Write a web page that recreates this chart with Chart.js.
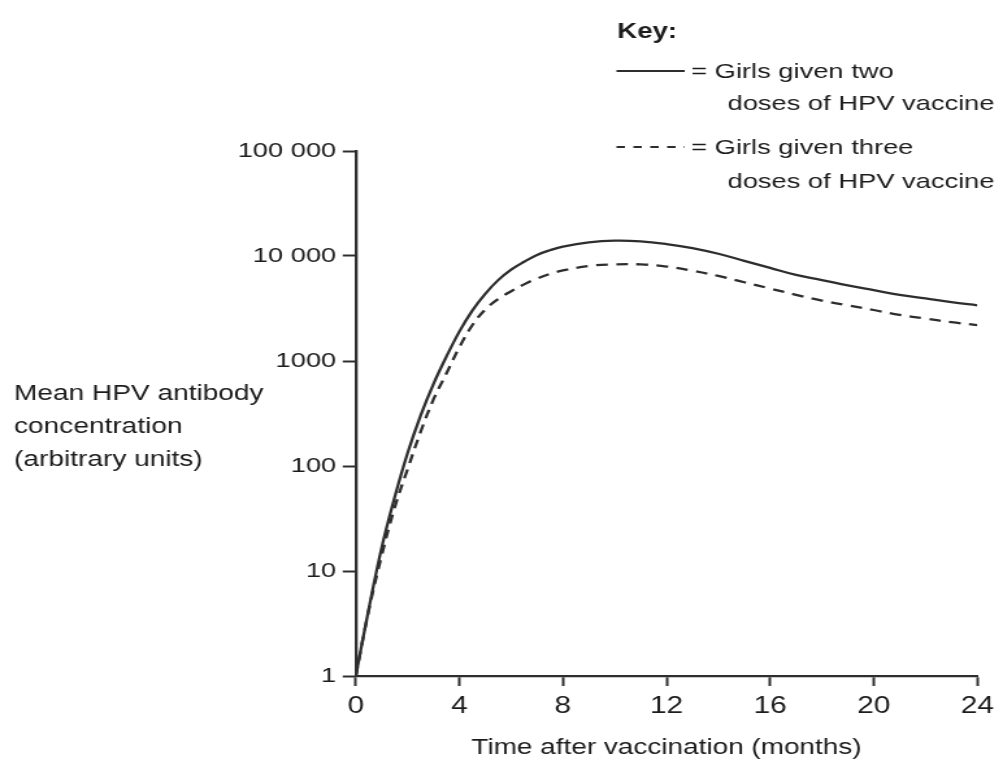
<!DOCTYPE html>
<html>
<head>
<meta charset="utf-8">
<script src="https://cdn.jsdelivr.net/npm/chart.js@4/dist/chart.umd.min.js"></script>
<style>
  html, body { margin: 0; padding: 0; background: #ffffff; }
  #c { display: block; width: 1003px; height: 761px; }
</style>
</head>
<body>
<canvas id="c" width="772" height="761" style="width:1003px;height:761px;"></canvas>
<script>
// ---- data ----
const months = [0, 0.5, 1, 1.5, 2, 2.5, 3, 3.5, 4, 4.5, 5, 5.5, 6, 6.5, 7, 7.5, 8, 9, 10, 11, 12, 13, 14, 15, 16, 17, 18, 19, 20, 21, 22, 23, 24];
const twoDoses = [1, 4.3, 16.6, 50, 132, 300, 603, 1100, 1905, 3020, 4365, 5890, 7410, 8810, 10230, 11350, 12300, 13490, 14000, 13800, 13000, 11900, 10500, 9000, 7700, 6600, 5900, 5250, 4730, 4270, 3940, 3630, 3390];
const threeDoses = [1, 4.2, 14, 40, 93, 210, 430, 760, 1350, 2190, 3090, 3890, 4620, 5370, 6100, 6760, 7280, 8040, 8320, 8320, 7940, 7240, 6460, 5620, 4900, 4270, 3760, 3390, 3060, 2750, 2540, 2340, 2200];
const yTickValues = [1, 10, 100, 1000, 10000, 100000];
const yTickLabels = ['1', '10', '100', '1000', '10 000', '100 000'];
const xTickStep = 4;
const seriesNames = ['Girls given two doses of HPV vaccine', 'Girls given three doses of HPV vaccine'];
const xTitle = 'Time after vaccination (months)';
const yTitleLines = ['Mean HPV antibody', 'concentration', '(arbitrary units)'];
const keyTitle = 'Key:';
const keyLines = [['= Girls given two', 'doses of HPV vaccine'], ['= Girls given three', 'doses of HPV vaccine']];

const INK = '#1c1c1c';
const AXIS = '#2e2e2e';
const FONT = '"Liberation Sans", Arial, sans-serif';

const toPoints = (vals) => months.map((m, i) => ({ x: m, y: vals[i] }));

const annotations = {
  id: 'annotations',
  afterDraw(chart) {
    const ctx = chart.ctx;
    ctx.save();
    ctx.fillStyle = INK;
    ctx.textAlign = 'left';
    ctx.textBaseline = 'alphabetic';
    // y-axis title (horizontal, three lines)
    ctx.font = '21.6px ' + FONT;
    const yb = [400, 433, 466];
    yTitleLines.forEach((t, i) => ctx.fillText(t, 10.8, yb[i]));
    // key
    ctx.font = 'bold 21.3px ' + FONT;
    ctx.fillText(keyTitle, 475, 38);
    ctx.font = '21px ' + FONT;
    ctx.fillText(keyLines[0][0], 532, 78);
    ctx.fillText(keyLines[0][1], 560, 110);
    ctx.fillText(keyLines[1][0], 532, 154);
    ctx.fillText(keyLines[1][1], 560, 188);
    ctx.strokeStyle = AXIS;
    ctx.lineWidth = 2;
    ctx.beginPath();
    ctx.moveTo(474.5, 71); ctx.lineTo(527, 71);
    ctx.stroke();
    ctx.setLineDash([6.5, 6.5]);
    ctx.beginPath();
    ctx.moveTo(474.5, 147); ctx.lineTo(527, 147);
    ctx.stroke();
    ctx.restore();
  }
};

new Chart(document.getElementById('c'), {
  type: 'line',
  data: {
    datasets: [
      {
        label: seriesNames[0],
        data: toPoints(twoDoses),
        borderColor: AXIS,
        borderWidth: 2.3,
        pointRadius: 0,
        fill: false,
        tension: 0.4
      },
      {
        label: seriesNames[1],
        data: toPoints(threeDoses),
        borderColor: AXIS,
        borderWidth: 2.3,
        borderDash: [9, 6.5],
        pointRadius: 0,
        fill: false,
        tension: 0.4
      }
    ]
  },
  options: {
    responsive: false,
    devicePixelRatio: 1,
    animation: false,
    layout: { padding: { left: 0, right: 13.5, top: 151, bottom: 0 } },
    plugins: { legend: { display: false }, tooltip: { enabled: false } },
    scales: {
      x: {
        type: 'linear',
        min: 0,
        max: 24,
        afterFit(scale) { scale.height = 85; },
        ticks: {
          stepSize: xTickStep,
          color: INK,
          padding: 7,
          maxRotation: 0,
          font: { family: FONT, size: 23 }
        },
        grid: { drawOnChartArea: false, drawTicks: true, tickLength: 10, tickWidth: 2, tickColor: AXIS },
        border: { display: true, color: AXIS, width: 2.3 },
        title: { display: true, text: xTitle, color: INK, font: { family: FONT, size: 21.5 }, padding: { top: 0, bottom: 0 } }
      },
      y: {
        type: 'logarithmic',
        min: 1,
        max: 100000,
        afterFit(scale) { scale.width = 273.8; },
        afterBuildTicks(scale) { scale.ticks = yTickValues.map(v => ({ value: v })); },
        ticks: {
          color: INK,
          padding: 5,
          font: { family: FONT, size: 21 },
          callback(value) {
            const i = yTickValues.indexOf(value);
            return i >= 0 ? yTickLabels[i] : '';
          }
        },
        grid: { drawOnChartArea: false, drawTicks: true, tickLength: 10, tickWidth: 2, tickColor: AXIS },
        border: { display: true, color: AXIS, width: 2.3 }
      }
    }
  },
  plugins: [annotations]
});
</script>
</body>
</html>
